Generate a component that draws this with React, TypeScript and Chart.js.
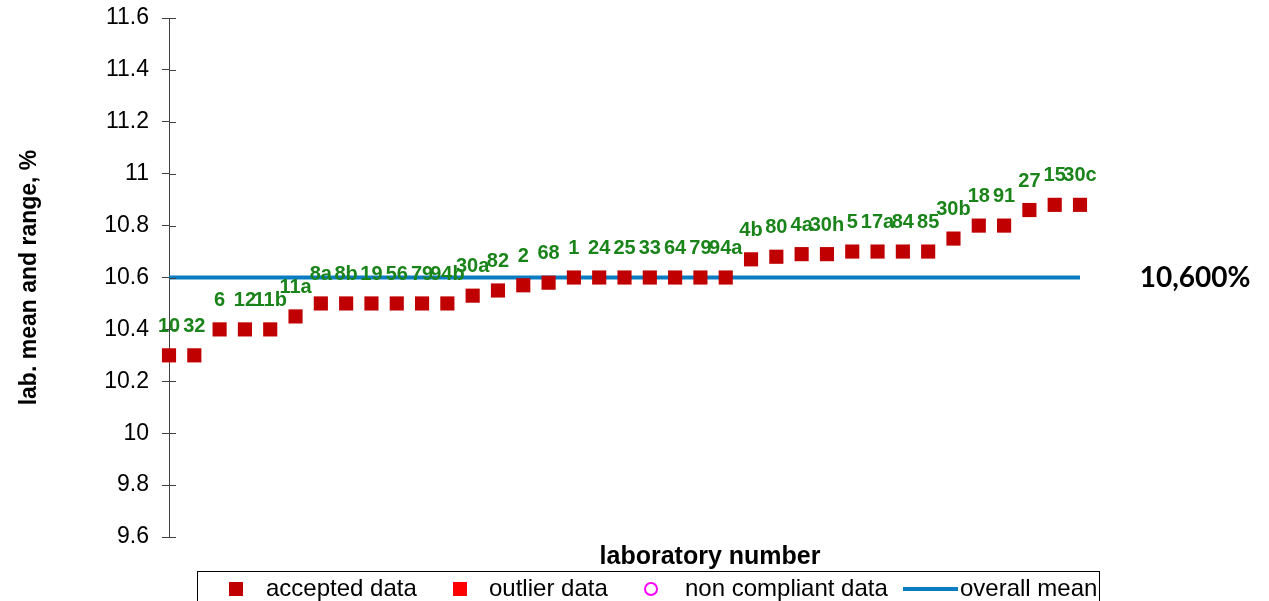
import React, { useEffect, useRef } from "react";
import { Chart, registerables } from "chart.js";

Chart.register(...registerables);

const labNumbers: string[] = [
  "10", "32", "6", "12", "11b", "11a", "8a", "8b", "19", "56", "79", "94b",
  "30a", "82", "2", "68", "1", "24", "25", "33", "64", "79", "94a",
  "4b", "80", "4a", "30h", "5", "17a", "84", "85", "30b", "18", "91", "27", "15", "30c",
];

const labMeans: number[] = [
  10.30, 10.30, 10.40, 10.40, 10.40, 10.45, 10.50, 10.50, 10.50, 10.50, 10.50, 10.50,
  10.53, 10.55, 10.57, 10.58, 10.60, 10.60, 10.60, 10.60, 10.60, 10.60, 10.60,
  10.67, 10.68, 10.69, 10.69, 10.70, 10.70, 10.70, 10.70, 10.75, 10.80, 10.80, 10.86, 10.88, 10.88,
];

const overallMean = 10.6;
const overallMeanText = "10,600%";
const yTicks: number[] = [9.6, 9.8, 10, 10.2, 10.4, 10.6, 10.8, 11, 11.2, 11.4, 11.6];
const legendLabels: string[] = ["accepted data", "outlier data", "non compliant data", "overall mean"];
const xTitle = "laboratory number";
const yTitle = "lab. mean and range, %";

const COL_ACCEPTED = "#c00000";
const COL_OUTLIER = "#ff0000";
const COL_NONCOMP = "#ff00ff";
const COL_MEAN = "#0a7cc1";
const COL_LABEL = "#1a841a";
const FONT = "'Liberation Sans', Arial, sans-serif";

export default function App() {
  const ref = useRef<HTMLCanvasElement | null>(null);

  useEffect(() => {
    if (!ref.current) return;
    const accepted = labMeans.map((v, i) => ({ x: i, y: v }));
    const meanLine = [
      { x: 0, y: overallMean },
      { x: labMeans.length - 1, y: overallMean },
    ];

    const overlay = {
      id: "overlay",
      afterDatasetsDraw(chart: any) {
        const ctx = chart.ctx;
        const ys = chart.scales.y;
        const area = chart.chartArea;
        ctx.save();
        // inner tick marks
        ctx.strokeStyle = "#404040";
        ctx.lineWidth = 1;
        yTicks.forEach((t) => {
          const py = Math.round(ys.getPixelForValue(t)) + 0.5;
          ctx.beginPath();
          ctx.moveTo(area.left, py);
          ctx.lineTo(area.left + 7, py);
          ctx.stroke();
        });
        // data labels
        const meta = chart.getDatasetMeta(0);
        ctx.fillStyle = COL_LABEL;
        ctx.font = `bold 20px ${FONT}`;
        ctx.textAlign = "center";
        ctx.textBaseline = "middle";
        meta.data.forEach((el: any, i: number) => {
          ctx.fillText(labNumbers[i], el.x, el.y - 29);
        });
        // mean value text
        const meanMeta = chart.getDatasetMeta(3);
        const last = meanMeta.data[meanMeta.data.length - 1];
        ctx.fillStyle = "#000";
        ctx.font = `bold 28px Lato, 'Open Sans', sans-serif`;
        ctx.textAlign = "center";
        ctx.fillText(overallMeanText, 1195, last.y);
        // x title
        ctx.font = `bold 25px ${FONT}`;
        ctx.fillText(xTitle, 710, 557);
        // legend
        const ly = 589;
        ctx.strokeStyle = "#000";
        ctx.lineWidth = 1;
        ctx.strokeRect(197.5, 571.5, 902, 40);
        ctx.fillStyle = COL_ACCEPTED;
        ctx.fillRect(229, ly - 7, 14, 14);
        ctx.fillStyle = COL_OUTLIER;
        ctx.fillRect(453, ly - 7, 14, 14);
        ctx.strokeStyle = COL_NONCOMP;
        ctx.lineWidth = 2;
        ctx.beginPath();
        ctx.arc(651, ly, 6, 0, Math.PI * 2);
        ctx.stroke();
        ctx.strokeStyle = COL_MEAN;
        ctx.lineWidth = 4;
        ctx.beginPath();
        ctx.moveTo(903, ly);
        ctx.lineTo(958, ly);
        ctx.stroke();
        ctx.fillStyle = "#000";
        ctx.font = `24px ${FONT}`;
        ctx.textAlign = "left";
        const lx = [266, 489, 685, 960];
        legendLabels.forEach((t, i) => ctx.fillText(t, lx[i], ly));
        ctx.restore();
      },
    };

    const chart = new Chart(ref.current, {
      type: "scatter",
      data: {
        datasets: [
          {
            label: legendLabels[0],
            data: accepted,
            pointStyle: "rect",
            pointRadius: 10,
            pointBackgroundColor: COL_ACCEPTED,
            pointBorderWidth: 0,
            showLine: false,
            clip: false,
            order: 1,
          },
          {
            label: legendLabels[1],
            data: [],
            pointStyle: "rect",
            pointRadius: 10,
            pointBackgroundColor: COL_OUTLIER,
            pointBorderWidth: 0,
          },
          {
            label: legendLabels[2],
            data: [],
            pointStyle: "circle",
            pointRadius: 6,
            pointBorderColor: COL_NONCOMP,
          },
          {
            label: legendLabels[3],
            data: meanLine,
            showLine: true,
            borderColor: COL_MEAN,
            borderWidth: 4,
            pointRadius: 0,
            clip: false,
            order: 2,
          },
        ],
      } as any,
      options: {
        animation: false,
        responsive: false,
        maintainAspectRatio: false,
        layout: { padding: { top: 18, right: 189, bottom: 30, left: 0 } },
        plugins: { legend: { display: false }, tooltip: { enabled: false } },
        scales: {
          x: {
            type: "linear",
            min: 0,
            max: labMeans.length - 1,
            ticks: { display: false },
            grid: { display: false },
            border: { display: false },
            title: { display: false },
            afterFit: (s: any) => {
              s.height = 34;
              s.paddingLeft = 0;
              s.paddingRight = 0;
            },
          },
          y: {
            type: "linear",
            min: 9.6,
            max: 11.6,
            afterBuildTicks: (s: any) => {
              s.ticks = yTicks.map((v) => ({ value: v }));
            },
            ticks: {
              color: "#000",
              font: { family: FONT, size: 23 },
              padding: 13,
              callback: (v: any) => String(Math.round(v * 10) / 10),
            },
            grid: { drawOnChartArea: false, drawTicks: true, tickLength: 7, color: "#404040" },
            border: { display: true, color: "#404040", width: 1 },
            title: {
              display: true,
              text: yTitle,
              color: "#000",
              font: { family: FONT, size: 23, weight: "bold" },
              padding: { top: 16, bottom: 0 },
            },
            afterFit: (s: any) => {
              s.width = 169;
              s.paddingTop = 0;
              s.paddingBottom = 0;
            },
          },
        },
      } as any,
      plugins: [overlay],
    });
    return () => chart.destroy();
  }, []);

  return (
    <div style={{ position: "fixed", left: 0, top: 0, width: 1269, height: 601, background: "#fff" }}>
      <canvas ref={ref} width={1269} height={601} style={{ display: "block" }} />
    </div>
  );
}
